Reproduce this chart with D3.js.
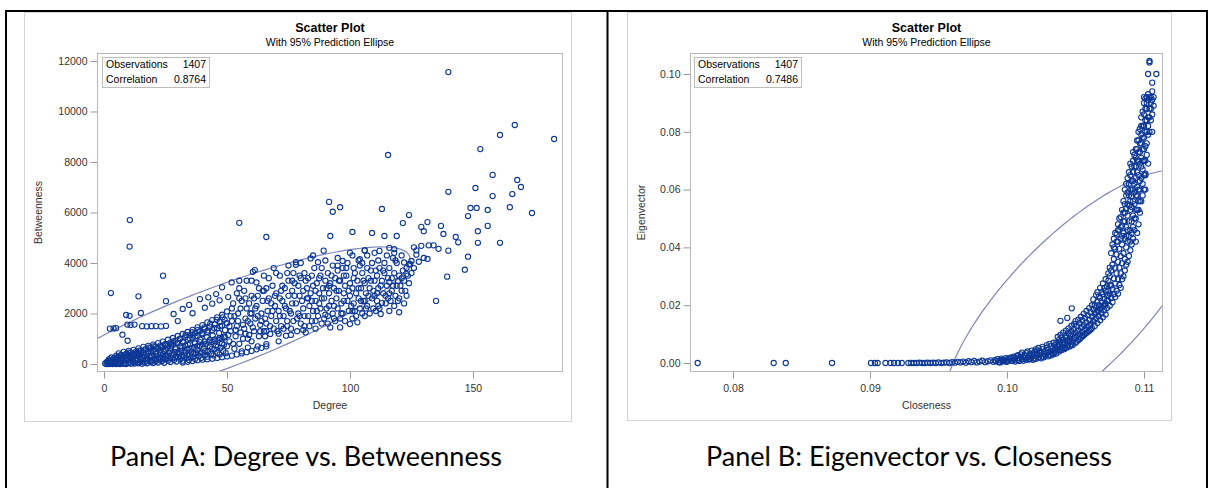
<!DOCTYPE html>
<html>
<head>
<meta charset="utf-8">
<script src="https://cdn.jsdelivr.net/npm/d3@7"></script>
<style>
  body { margin: 0; background: #fff; }
  svg { display: block; }
</style>
</head>
<body>
<div id="chart"></div>
<script>
// ---------------- data ----------------
// Panel A: [degree, betweenness]
var panelAPoints = [
  // isolated points
  [140,11560],[167,9465],[161,9070],[183,8910],[153,8510],[115.5,8277],[158,7490],[168,7290],[169.5,7010],[151,6970],
  [140,6820],[166,6730],[158,6650],[91.5,6420],[93,6030],[96,6210],[113,6140],[149,6180],[151.5,6180],[156,6100],
  [165,6210],[174,5980],[148,5860],[124,5900],[121.5,5580],[131.5,5620],[129,5430],[130,5260],[137,5470],[138,5150],
  [143,5030],[152,5260],[156,5470],[10.5,5700],[55,5590],[66,5030],[92,5070],[101,5230],[109,5190],[114,5070],
  [119,5070],[152,4800],[161,4800],[10.4,4650],[135,2500],[139.5,3460],[146.7,3735],[148,4250],[140,4490],[131.5,4160],
  [128,4050],[123,3560],[119.5,3290],[116,3250],[2.8,2810],[14,2680],[24,3500],[25.2,2490],[15,2020],[9,1940],
  [10.4,1910],[2.4,1400],[3.9,1410],[4.9,1420],[9.5,1560],[10.8,1540],[12.4,1560],[7.5,1160],[9.6,920],[15.5,1500],
  [17.4,1490],[19.3,1500],[21.1,1500],[23.2,1490],[25.2,1510],[126,4620],[129,4680],[132,4700],[136,4560],[144,4820],
  [127,4330],[118,4550],[116,4600],[112,4480],[106,4500],[104,4150],[101,4300],[97,4080],[95,3900],[124,3950],
  [122,4020],[125,4080],[32,2180],[34.6,2340],[39,2570],[42.4,2640],[45.6,2770],[48,3036],[51.9,3230],[55,3300],
  [28.3,1980],[30,1700],[36,2010],[41,2230],[44,2390],[47,2520],
  // dense wedge near the origin
  [1,0],[1.5,30],[2,0],[2.5,60],[3,10],[3.5,0],[4,40],[4.5,90],[5,0],[5.5,20],[6,70],[6.5,0],[7,30],[7.5,110],[8,10],
  [8.5,50],[9,0],[9.5,140],[10,40],[10.5,80],[11,10],[11.5,170],[12,60],[12.5,20],[13,110],[13.5,200],[14,30],[14.5,80],
  [15,150],[15.5,10],[16,240],[16.5,60],[17,120],[17.5,30],[18,190],[18.5,280],[19,70],[19.5,140],[20,40],[20.5,230],
  [21,100],[21.5,320],[22,60],[22.5,170],[23,260],[23.5,110],[24,380],[24.5,50],[25,200],[25.5,300],[26,130],[26.5,420],
  [27,80],[27.5,240],[28,350],[28.5,160],[29,470],[29.5,100],[30,280],[30.5,400],[31,190],[31.5,520],[32,130],[32.5,330],
  [33,450],[33.5,230],[34,580],[34.5,160],[35,370],[35.5,500],[36,270],[36.5,640],[37,200],[37.5,420],[38,560],[38.5,310],
  [39,720],[39.5,240],[40,460],[40.5,610],[41,360],[41.5,800],[42,290],[42.5,520],[43,680],[43.5,400],[44,880],[44.5,340],
  [45,580],[45.5,740],[46,450],[46.5,960],[47,380],[47.5,640],[48,820],[48.5,520],[49,1050],[49.5,430],[50,700],
  [2,180],[3,260],[4,220],[5,330],[6,280],[6,420],[7,360],[8,300],[8,480],[9,400],[10,330],[10,520],[11,450],[12,380],
  [12,560],[13,490],[14,420],[14,620],[15,540],[16,460],[16,680],[17,590],[18,500],[18,720],[19,640],[20,560],[20,770],
  [21,690],[22,600],[22,830],[23,740],[24,660],[24,890],[25,800],[26,720],[26,960],[27,860],[28,780],[28,1030],[29,920],
  [30,840],[30,1110],[31,990],[32,900],[32,1190],[33,1060],[34,970],[34,1270],[35,1140],[36,1040],[36,1350],[37,1220],
  [38,1110],[38,1450],[39,1300],[40,1180],[40,1540],[41,1390],[42,1260],[42,1650],[43,1480],[44,1340],[44,1740],[45,1570],
  [46,1420],[46,1850],[47,1660],[48,1520],[48,1950],[49,1760],[50,1610],[50,2080],
  [5,150],[7,210],[9,250],[11,310],[13,330],[15,390],[17,410],[19,470],[21,490],[23,550],[25,570],[27,630],[29,650],
  [31,710],[33,730],[35,790],[37,810],[39,870],[41,890],[43,950],[45,970],[47,1030],[49,1090],
  [32,60],[34,90],[36,120],[38,150],[40,170],[42,190],[44,210],[46,240],[48,270],[50,300],[52,330],[54,380],[56,420],
  [58,470],[60,520],[62,580],[64,640],[66,700],
  [0.5,20],[1.2,80],[1.8,120],[2.3,10],[2.8,140],[3.3,90],[3.8,180],[4.2,20],[4.7,250],[5.2,120],[5.8,200],[6.2,30],
  [6.8,330],[7.2,160],[7.8,260],[8.2,40],[8.8,360],[9.2,200],[9.8,290],[10.2,450],[10.8,240],[11.2,380],[11.8,90],
  [12.2,300],[12.8,420],[13.2,150],[13.8,360],[14.2,520],[14.8,240],[15.2,460],[15.8,90],[16.2,350],[16.8,580],[17.2,200],
  [17.8,420],[18.2,650],[18.8,130],[19.2,330],[19.8,520],[20.2,700],[20.8,160],[21.2,400],[21.8,600],[22.2,250],[22.8,460],
  [23.2,680],[23.8,180],[24.2,520],[24.8,760],[25.2,330],[25.8,620],[26.2,220],[26.8,520],[27.2,780],[27.8,430],[28.2,900],
  [28.8,250],[29.2,580],[29.8,820],[30.2,450],[30.8,1000],[31.2,300],[31.8,640],[32.2,860],[32.8,520],[33.2,1150],
  [33.8,350],[34.2,760],[34.8,1020],[35.2,620],[35.8,1260],[36.2,400],[36.8,860],[37.2,1100],[37.8,700],[38.2,1350],
  [38.8,450],[39.2,960],[39.8,1220],[40.2,780],[40.8,1450],[41.2,520],[41.8,1060],[42.2,1330],[42.8,860],[43.2,1600],
  [43.8,600],[44.2,1130],[44.8,1420],[45.2,900],[45.8,1750],[46.2,680],[46.8,1230],[47.2,1500],[47.8,1000],[48.2,1850],
  [48.8,760],[49.2,1340],[49.8,1620],
  // middle of the cloud
  [51,900],[51.5,1300],[52,1700],[52.5,2400],[53,600],[53.5,1100],[54,1500],[54.5,2000],[55,800],[55,2600],[55.5,1250],
  [50.5,2650],[52,2200],[53,1900],[54,2800],[51,1500],
  [56,500],[56.5,1000],[57,1400],[57.5,1800],[58,2200],[58.5,650],[59,1150],[59.5,1600],[60,2000],[56,2500],[57,2900],
  [58,3300],[59,2400],[60,900],[60,2700],[57.5,1200],[58.5,1700],
  [60.5,3650],[61.3,3720],[61,1300],[61.5,1800],[62,2300],[62,3230],[62.5,700],[63,1100],[63.5,1550],[64,2000],[64.5,2500],
  [65,1300],[65,2900],[63,3000],[61,2600],[64,1700],[62.5,1900],
  [66,790],[66,1600],[66.5,2100],[67,2600],[67.6,1190],[68,1900],[68.5,3100],[69,3800],[69,1400],[69.5,2300],[70,1700],
  [70,2800],[67,3400],[68,2400],[66,3000],[65.5,1100],
  [71,1200],[71,2100],[71.5,3500],[72,1500],[72.5,2500],[73,1900],[73.5,3000],[74,1120],[74,2200],[74.5,1700],[75,2700],
  [75,3300],[72,2900],[73,1400],[71.5,2600],[74.5,3600],
  [76,1400],[76,2000],[76.5,2900],[77,3600],[77,1700],[78,4030],[78,3930],[78,2400],[78.5,1300],[79,2000],[79,3100],
  [79.5,2700],[80,1600],[80,3400],[76.5,2400],[77.5,3200],[79.5,1900],
  [81,2200],[81,2900],[81.5,1500],[82,1250],[82,3300],[82.5,2600],[83,1900],[83,3400],[83.5,2300],[84,4180],[84,2800],
  [84.5,1700],[85,3100],[85,2100],[81.5,3600],[83,2600],[84.5,3500],
  [86,2500],[86,1400],[86.5,3200],[87,4030],[87,1900],[87.5,2800],[88,3500],[88,2200],[88.5,1600],[89,3000],[89.3,4490],
  [89.5,2600],[90,1950],[90,3300],[86,2900],[88.5,3800],[87.5,2400],
  [90.5,2200],[91,3600],[91,1600],[91.5,2800],[92,1450],[92,3200],[92.5,2500],[93,3900],[93,2000],[93.5,3000],[94,1700],
  [94,3400],[94.5,2600],[95,2200],[95,3700],[91.5,3100],[93.5,2300],
  [95.5,2900],[96,1450],[96,3300],[96.5,2400],[97,3800],[97,2000],[97.5,2800],[98,3100],[98,1700],[98.5,3500],[99,2500],
  [99,4000],[99.5,2100],[100,1580],[100,3200],[100,2700],[97.5,3500],
  [101,1800],[101,3000],[101.5,2400],[102,3600],[102,2100],[102.5,2800],[103,1650],[103,3300],[103.5,2600],[104,3900],
  [104,2200],[104.5,3000],[105,2000],[105,3600],[101.5,3800],[103.5,4100],
  [105.5,2500],[106,3200],[106,1900],[106.5,2800],[107,3800],[107,2300],[107.5,3400],[108,2000],[108,3000],[108.5,3700],
  [109,2600],[109,4000],[109.5,2200],[110,3300],[110,2700],[107,4300],[106,4500],
  [110.5,2100],[111,3500],[111,2500],[111.5,3000],[112,3800],[112,2200],[112.5,1980],[113,2420],[113,3300],[113.5,2800],
  [114,3600],[114,4000],[114.5,2400],[115,3100],[115,4300],[111.5,4100],
  [115.5,2600],[116,3800],[116,2100],[117,3400],[117,2900],[117.5,4200],[118,2300],[118,3600],[118.5,2700],[119,3100],
  [119,4000],[120,2600],[120,3500],[121,2900],[121,4300],[122,3300],[123,2700],[123,3800],[124,3200],[124.5,3950],
  [120,2050],[122,2400],
  [50.5,1150],[51.5,1900],[52.5,800],[53.5,1350],[54.5,1700],[55.5,2200],[56.5,1550],[57.5,2600],[58.5,1000],[59.5,2000],
  [60.5,1450],[61.5,2200],[62.5,2700],[63.5,1300],[64.5,2900],[65.5,1800],[66.5,2500],[67.5,1500],[68.5,2100],[69.5,2700],
  [70.5,1300],[71.5,1900],[72.5,3100],[73.5,2300],[74.5,1500],[75.5,2100],[76.5,3300],[77.5,2700],[78.5,1800],[79.5,3500],
  [80.5,2500],[81.5,1900],[82.5,3000],[83.5,1500],[84.5,2500],[85.5,3800],[86.5,2100],[87.5,3400],[88.5,2600],[89.5,1800],
  [90.5,3000],[91.5,2300],[92.5,3500],[93.5,1800],[94.5,2900],[95.5,3300],[96.5,2000],[97.5,2500],[98.5,3800],[99.5,2900],
  [100.5,2300],[101.5,3400],[102.5,1900],[103.5,3000],[104.5,2500],[105.5,3300],[106.5,2200],[107.5,2700],[108.5,3300],
  [109.5,2900],[110.5,3700],[111.5,2300],[112.5,3100],[113.5,3700],[114.5,2700],[115.5,3400],[116.5,2500],[117.5,3100],
  [118.5,4100],[119.5,2500],[120.5,3100],[121.5,3700],[122.5,2900],[123.5,3500],[55,3000],[60,3300],[65,3500],[70,3600],
  [75,3900],[80,4000],[85,4300],[90,4100],[95,4200],[100,4400],[105,4000],[110,4400],[118,4400],[66,1300],[71,900],
  [76,1150],[81,1350],[86,1700],[91,1900],[96,1800],[101,2100],[106,2500],[111,2800],[116,2800],[121,3400],[125,3600],
  [127,4500],[130,4200],[126,3800],[134,4700]
];

// Panel B: [closeness, eigenvector]
var panelBPoints = [
  [0.07742,0],[0.08297,0],[0.08385,0],[0.08723,0],[0.09007,0],[0.09036,0],[0.09056,0],[0.09113,0],[0.0915,0],[0.09175,0],
  [0.09204,0],[0.09232,0],
  [0.0928,0],[0.0930,0],[0.0932,0],[0.0934,0],[0.0936,0.0001],[0.0938,0],[0.0940,0],[0.0942,0.0001],[0.0944,0],
  [0.0946,0.0001],[0.0948,0],[0.0950,0.0002],[0.0952,0],[0.0954,0.0001],[0.0956,0.0002],[0.0958,0],[0.0960,0.0003],
  [0.0962,0.0001],[0.0964,0.0004],[0.0966,0.0002],[0.0968,0.0005],[0.0970,0.0001],[0.0972,0.0006],[0.0974,0.0003],
  [0.0976,0.0007],[0.0978,0.0002],[0.0980,0.0005],[0.0982,0.0008],[0.0984,0.0003],[0.0986,0.0006],[0.0988,0.0009],
  [0.0990,0.0004],
  [0.0991,0.0010],[0.0992,0.0006],[0.0993,0.0013],[0.0994,0.0003],[0.0995,0.0009],[0.0996,0.0015],[0.0997,0.0006],
  [0.0998,0.0011],[0.0999,0.0017],[0.1000,0.0004],[0.1001,0.0009],[0.1002,0.0014],[0.1003,0.0019],[0.1004,0.0007],
  [0.1005,0.0012],
  [0.1006,0.0018],[0.1007,0.0024],[0.1008,0.0010],[0.1009,0.0016],[0.1010,0.0022],[0.1010,0.0030],[0.1011,0.0013],
  [0.1012,0.0020],[0.1013,0.0027],[0.1014,0.0011],[0.1014,0.0034],[0.1015,0.0018],[0.1016,0.0025],[0.1017,0.0014],
  [0.1017,0.0032],[0.1018,0.0021],[0.1019,0.0028],[0.1020,0.0016],[0.1020,0.0038],
  [0.1021,0.0024],[0.1022,0.0032],[0.1022,0.0044],[0.1023,0.0019],[0.1024,0.0028],[0.1024,0.0040],[0.1025,0.0035],
  [0.1026,0.0022],[0.1026,0.0048],[0.1027,0.0031],[0.1028,0.0041],[0.1028,0.0026],[0.1029,0.0053],[0.1030,0.0036],
  [0.1030,0.0046],[0.1031,0.0029],[0.1032,0.0040],[0.1032,0.0058],[0.1033,0.0034],[0.1033,0.0050],[0.1034,0.0044],
  [0.1035,0.0062],[0.1035,0.0038],
  [0.1036,0.0050],[0.1036,0.0070],[0.1037,0.0043],[0.1037,0.0058],[0.1038,0.0066],[0.1038,0.0080],[0.1039,0.0048],
  [0.1039,0.0074],[0.1040,0.0056],[0.1040,0.0088],[0.1041,0.0063],[0.1041,0.0079],[0.1042,0.0052],[0.1042,0.0071],
  [0.1043,0.0086],[0.1043,0.0095],[0.1044,0.0060],[0.1044,0.0077],[0.1045,0.0068],[0.1045,0.0102],[0.1046,0.0084],
  [0.1046,0.0093],[0.1047,0.0064],[0.1047,0.0110],[0.1048,0.0075],[0.1048,0.0099],
  [0.10473,0.0189],[0.1044,0.0156],[0.1039,0.0146],
  [0.1049,0.0086],[0.1049,0.0118],[0.1050,0.0070],[0.1050,0.0105],[0.1051,0.0094],[0.1051,0.0128],[0.1052,0.0080],
  [0.1052,0.0112],[0.1053,0.0100],[0.1053,0.0138],[0.1054,0.0088],[0.1054,0.0121],[0.1055,0.0108],[0.1055,0.0148],
  [0.1056,0.0096],[0.1056,0.0132],[0.1057,0.0116],[0.1057,0.0156],[0.1058,0.0104],[0.1058,0.0140],[0.1059,0.0125],
  [0.1059,0.0165],[0.1060,0.0112],[0.1060,0.0150],[0.1061,0.0134],[0.1061,0.0175],[0.1062,0.0120],[0.1062,0.0160],
  [0.1063,0.0145],[0.1063,0.0185],[0.1064,0.0128],[0.1064,0.0170],[0.1064,0.0200],[0.1065,0.0155],[0.1065,0.0192],
  [0.1066,0.0138],[0.1066,0.0180],[0.1066,0.0212],[0.1067,0.0162],[0.1067,0.0200],[0.1068,0.0148],[0.1068,0.0188],
  [0.1068,0.0225],[0.1069,0.0172],[0.1069,0.0210],[0.1070,0.0158],[0.1070,0.0198],[0.1070,0.0238],[0.1071,0.0182],
  [0.1071,0.0222],[0.1072,0.0168],[0.1072,0.0205],[0.1072,0.0250],
  [0.1073,0.0190],[0.1073,0.0232],[0.1073,0.0265],[0.1074,0.0215],[0.1074,0.0250],[0.1074,0.0285],[0.1075,0.0198],
  [0.1075,0.0240],[0.1075,0.0300],[0.1076,0.0225],[0.1076,0.0268],[0.1076,0.0320],[0.1077,0.0210],[0.1077,0.0255],
  [0.1077,0.0340],[0.1078,0.0238],[0.1078,0.0292],[0.1078,0.0360],[0.1079,0.0228],[0.1079,0.0275],[0.1079,0.0330],
  [0.1080,0.0250],[0.1080,0.0310],[0.1080,0.0375],[0.1081,0.0240],[0.1081,0.0290],[0.1081,0.0350],[0.1082,0.0270],
  [0.1082,0.0330],[0.1082,0.0395],[0.1083,0.0260],[0.1083,0.0310],[0.1083,0.0370],
  [0.1084,0.0290],[0.1084,0.0345],[0.1084,0.0410],[0.1085,0.0300],[0.1085,0.0380],[0.1085,0.0450],[0.1086,0.0320],
  [0.1086,0.0360],[0.1086,0.0430],[0.1086,0.0490],[0.1087,0.0340],[0.1087,0.0400],[0.1087,0.0470],[0.1088,0.0350],
  [0.1088,0.0420],[0.1088,0.0510],[0.1089,0.0370],[0.1089,0.0440],[0.1089,0.0545],[0.1090,0.0390],[0.1090,0.0460],
  [0.1090,0.0530],[0.1091,0.0410],[0.1091,0.0490],[0.1091,0.0575],[0.1092,0.0430],[0.1092,0.0510],[0.1092,0.0600],
  [0.1076,0.0380],[0.1077,0.0410],[0.1078,0.0430],[0.1079,0.0395],[0.1080,0.0445],[0.1081,0.0420],[0.1081,0.0480],
  [0.1082,0.0460],[0.1083,0.0430],[0.1083,0.0505],[0.1084,0.0475],[0.1085,0.0520],[0.1086,0.0550],[0.1087,0.0535],
  [0.1087,0.0580],
  [0.1088,0.0590],[0.1089,0.0620],[0.1090,0.0600],[0.1090,0.0650],[0.1091,0.0630],[0.1091,0.0680],[0.1092,0.0660],
  [0.1092,0.0700],[0.1093,0.0460],[0.1093,0.0550],[0.1093,0.0620],[0.1093,0.0720],[0.1094,0.0500],[0.1094,0.0580],
  [0.1094,0.0680],[0.1094,0.0740],[0.1095,0.0530],[0.1095,0.0610],[0.1095,0.0700],[0.1095,0.0770],[0.1096,0.0560],
  [0.1096,0.0650],[0.1096,0.0730],[0.1096,0.0800],[0.1097,0.0600],[0.1097,0.0690],[0.1097,0.0760],[0.1098,0.0640],
  [0.1098,0.0710],[0.1098,0.0790],[0.1098,0.0850],[0.1099,0.0670],[0.1099,0.0740],[0.1099,0.0820],[0.1100,0.0700],
  [0.1100,0.0780],[0.1100,0.0860],[0.1100,0.0920],[0.1101,0.0650],[0.1101,0.0750],[0.1101,0.0840],[0.1101,0.0915],
  [0.1102,0.0720],[0.1102,0.0800],[0.1102,0.0880],[0.1102,0.0920],[0.1103,0.0690],[0.1103,0.0910],[0.1104,0.0850],
  [0.1104,0.0920],[0.1104,0.1045],[0.1104,0.1040],[0.1105,0.0900],[0.1105,0.0880],[0.1106,0.0800],[0.1106,0.0910],
  [0.1106,0.0940],[0.1106,0.0970],[0.1103,0.1000],[0.1109,0.1000],[0.1101,0.0655],[0.1100,0.0600],
  [0.0995,0.0002],[0.0997,0.0012],[0.0999,0.0005],[0.1001,0.0016],[0.1003,0.0008],[0.1005,0.0022],[0.1006,0.0005],
  [0.1008,0.0027],[0.1009,0.0007],[0.1011,0.0036],[0.1012,0.0008],[0.1013,0.0017],[0.1015,0.0040],[0.1016,0.0012],
  [0.1018,0.0043],[0.1019,0.0011],[0.1021,0.0047],[0.1021,0.0014],[0.1023,0.0052],[0.1025,0.0016],[0.1026,0.0056],
  [0.1027,0.0020],[0.1029,0.0062],[0.1030,0.0023],[0.1031,0.0066],[0.1032,0.0026],[0.1034,0.0070],[0.1034,0.0030],
  [0.1036,0.0033],[0.1037,0.0090],[0.1038,0.0040],[0.1039,0.0097],[0.1040,0.0045],[0.1041,0.0105],[0.1042,0.0048],
  [0.1043,0.0112],[0.1044,0.0054],[0.1045,0.0120],[0.1046,0.0058],[0.1047,0.0128],[0.1048,0.0062],[0.1049,0.0135],
  [0.1050,0.0145],[0.1051,0.0074],[0.1052,0.0150],[0.1053,0.0082],[0.1054,0.0160],[0.1055,0.0092],[0.1056,0.0170],
  [0.1057,0.0100],[0.1058,0.0180],[0.1059,0.0108],[0.1060,0.0190],[0.1061,0.0115],[0.1062,0.0200],[0.1045,0.0080],
  [0.1050,0.0090],[0.1055,0.0125],[0.1060,0.0130],[0.1040,0.0070],[0.1035,0.0050],
  [0.1063,0.0220],[0.1064,0.0150],[0.1065,0.0235],[0.1065,0.0175],[0.1066,0.0245],[0.1067,0.0180],[0.1067,0.0230],
  [0.1068,0.0260],[0.1069,0.0190],[0.1069,0.0245],[0.1070,0.0275],[0.1071,0.0200],[0.1071,0.0260],[0.1072,0.0290],
  [0.1073,0.0215],[0.1074,0.0310],[0.1074,0.0235],[0.1075,0.0330],[0.1075,0.0270],
  [0.1078,0.0400],[0.1079,0.0450],[0.1080,0.0420],[0.1081,0.0460],[0.1082,0.0500],[0.1083,0.0470],[0.1084,0.0440],
  [0.1084,0.0530],[0.1085,0.0490],[0.1085,0.0560],[0.1086,0.0520],[0.1086,0.0600],[0.1087,0.0440],[0.1087,0.0620],
  [0.1088,0.0460],[0.1088,0.0550],[0.1088,0.0640],[0.1089,0.0490],[0.1089,0.0580],[0.1089,0.0660],[0.1090,0.0420],
  [0.1090,0.0560],[0.1090,0.0690],[0.1091,0.0450],[0.1091,0.0540],[0.1091,0.0600],[0.1092,0.0470],[0.1092,0.0560],
  [0.1092,0.0630],[0.1092,0.0730],[0.1093,0.0500],[0.1093,0.0590],[0.1093,0.0680],[0.1094,0.0420],[0.1094,0.0530],
  [0.1094,0.0640],[0.1094,0.0710],[0.1095,0.0450],[0.1095,0.0580],[0.1095,0.0660],[0.1095,0.0740],[0.1096,0.0480],
  [0.1096,0.0600],[0.1096,0.0700],[0.1096,0.0770],[0.1097,0.0520],[0.1097,0.0630],[0.1097,0.0730],[0.1097,0.0810],
  [0.1098,0.0560],[0.1098,0.0680],[0.1098,0.0760],[0.1098,0.0820],[0.1099,0.0620],[0.1099,0.0700],[0.1099,0.0780],
  [0.1099,0.0870],[0.1100,0.0650],[0.1100,0.0740],[0.1100,0.0820],[0.1100,0.0900],[0.1101,0.0700],[0.1101,0.0800],
  [0.1101,0.0880],[0.1102,0.0760],[0.1102,0.0840],[0.1102,0.0900],[0.1103,0.0790],[0.1103,0.0850],[0.1103,0.0930],
  [0.1104,0.0800],[0.1104,0.0880],[0.1105,0.0840],[0.1105,0.0920],[0.1106,0.0860],[0.1107,0.0890],[0.1107,0.0920],
  [0.1103,0.0820],[0.1101,0.0600],[0.1099,0.0580],[0.1097,0.0560],[0.1096,0.0530]
];

var panelATicksX = [0, 50, 100, 150];
var panelATicksY = [0, 2000, 4000, 6000, 8000, 10000, 12000];
var panelBTicksX = [0.08, 0.09, 0.10, 0.11];
var panelBTicksY = [0.00, 0.02, 0.04, 0.06, 0.08, 0.10];

// shape of the drawn 95% prediction ellipse: [centreX, sdX, centreY, sdY, tilt]
var panelAEllipse = [46.1, 32, 1390, 1326, 0.85];
var panelBEllipse = [0.1050, 0.00395, 0.02035, 0.0190, 0.7486];

var panelAStats = [["Observations", "1407"], ["Correlation", "0.8764"]];
var panelBStats = [["Observations", "1407"], ["Correlation", "0.7486"]];

var captions = ["Panel A: Degree vs. Betweenness", "Panel B: Eigenvector vs. Closeness"];

// ---------------- drawing ----------------
var W = 1212, H = 488;
var FONT = "'Liberation Sans', Arial, sans-serif";
var MARK = "#0d3897";
var ELLC = "#7d86b8";

var svg = d3.select("#chart").append("svg")
  .attr("width", W).attr("height", H);

svg.append("rect").attr("width", W).attr("height", H).attr("fill", "#fff");

function drawPanel(o) {
  var g = svg.append("g");

  // graph frame
  g.append("rect")
    .attr("x", o.frame[0] + 0.5).attr("y", o.frame[1] + 0.5)
    .attr("width", o.frame[2] - o.frame[0]).attr("height", o.frame[3] - o.frame[1])
    .attr("fill", "#fff").attr("stroke", "#d3d3d3");

  var cx = (o.plot[0] + o.plot[1]) / 2;
  g.append("text").attr("x", cx).attr("y", 32).attr("text-anchor", "middle")
    .style("font-family", FONT).style("font-size", "12.5px").style("font-weight", "bold")
    .attr("fill", "#000").text("Scatter Plot");
  g.append("text").attr("x", cx).attr("y", 45.5).attr("text-anchor", "middle")
    .style("font-family", FONT).style("font-size", "10.5px")
    .attr("fill", "#000").text("With 95% Prediction Ellipse");

  var x = d3.scaleLinear().domain(o.xDomain).range([o.plot[0], o.plot[1]]);
  var y = d3.scaleLinear().domain(o.yDomain).range([o.plot[3], o.plot[2]]);

  // axes
  var xAxis = g.append("g")
    .attr("transform", "translate(0," + (o.plot[3] + 0.5) + ")")
    .call(d3.axisBottom(x).tickValues(o.xTicks).tickFormat(o.xFormat).tickSize(7).tickPadding(6).tickSizeOuter(0));
  var yAxis = g.append("g")
    .attr("transform", "translate(" + (o.plot[0] - 0.5) + ",0)")
    .call(d3.axisLeft(y).tickValues(o.yTicks).tickFormat(o.yFormat).tickSize(7).tickPadding(3).tickSizeOuter(0));
  [xAxis, yAxis].forEach(function (a) {
    a.select(".domain").remove();
    a.selectAll("line").attr("stroke", "#9a9a9a");
    a.selectAll("text").attr("fill", "#333").style("font-family", FONT).style("font-size", "10.5px");
  });

  // axis labels
  g.append("text").attr("x", cx).attr("y", o.plot[3] + 38).attr("text-anchor", "middle")
    .style("font-family", FONT).style("font-size", "10.5px").attr("fill", "#333").text(o.xLabel);
  g.append("text")
    .attr("transform", "translate(" + o.yLabelX + "," + ((o.plot[2] + o.plot[3]) / 2) + ") rotate(-90)")
    .attr("text-anchor", "middle")
    .style("font-family", FONT).style("font-size", "10.5px").attr("fill", "#333").text(o.yLabel);

  // clip to plot wall
  var clipId = "clip" + o.id;
  g.append("clipPath").attr("id", clipId).append("rect")
    .attr("x", o.plot[0]).attr("y", o.plot[2])
    .attr("width", o.plot[1] - o.plot[0]).attr("height", o.plot[3] - o.plot[2]);

  var inner = g.append("g").attr("clip-path", "url(#" + clipId + ")");

  // prediction ellipse
  var e = o.ellipse, k = Math.sqrt(5.991);
  var ring = d3.range(0, 361, 2).map(function (deg) {
    var t = deg * Math.PI / 180;
    var ex = e[0] + k * e[1] * Math.cos(t);
    var ey = e[2] + k * e[3] * (e[4] * Math.cos(t) + Math.sqrt(1 - e[4] * e[4]) * Math.sin(t));
    return [ex, ey];
  });
  inner.append("path")
    .datum(ring)
    .attr("fill", "none").attr("stroke", ELLC).attr("stroke-width", 1.2)
    .attr("d", d3.line().x(function (d) { return x(d[0]); }).y(function (d) { return y(d[1]); }).curve(d3.curveCardinalClosed));

  // markers
  inner.append("g").selectAll("circle")
    .data(o.points).enter().append("circle")
    .attr("cx", function (d) { return x(d[0]); })
    .attr("cy", function (d) { return y(d[1]); })
    .attr("r", 2.6)
    .attr("fill", "none").attr("stroke", MARK).attr("stroke-width", 1.1);

  // plot wall border
  g.append("rect")
    .attr("x", o.plot[0] - 0.5).attr("y", o.plot[2] - 0.5)
    .attr("width", o.plot[1] - o.plot[0] + 1).attr("height", o.plot[3] - o.plot[2] + 1)
    .attr("fill", "none").attr("stroke", "#b8b8b8");

  // stats inset
  var ib = o.inset;
  g.append("rect").attr("x", ib[0] + 0.5).attr("y", 57.5).attr("width", ib[1] - ib[0]).attr("height", 30)
    .attr("fill", "#fff").attr("stroke", "#bdbdbd");
  o.stats.forEach(function (s, i) {
    g.append("text").attr("x", ib[0] + 4).attr("y", 68 + i * 14.5)
      .style("font-family", FONT).style("font-size", "10.5px").attr("fill", "#000").text(s[0]);
    g.append("text").attr("x", ib[1] - 3).attr("y", 68 + i * 14.5).attr("text-anchor", "end")
      .style("font-family", FONT).style("font-size", "10.5px").attr("fill", "#000").text(s[1]);
  });

  // caption under the graph
  svg.append("text").attr("x", o.capX).attr("y", 466).attr("text-anchor", "middle")
    .attr("textLength", o.capW).attr("lengthAdjust", "spacingAndGlyphs")
    .style("font-family", "Lato, 'Open Sans', sans-serif").style("font-size", "26px")
    .attr("fill", "#000").text(o.caption);
}

drawPanel({
  id: "A",
  frame: [24, 12, 571, 421],
  plot: [98, 562, 54, 371],
  xDomain: [-2.44, 186.2],
  yDomain: [-277, 12277],
  xTicks: panelATicksX, yTicks: panelATicksY,
  xFormat: d3.format("d"), yFormat: d3.format("d"),
  xLabel: "Degree", yLabel: "Betweenness", yLabelX: 42,
  ellipse: panelAEllipse,
  points: panelAPoints,
  inset: [102, 209],
  stats: panelAStats,
  caption: captions[0], capX: 306, capW: 392
});

drawPanel({
  id: "B",
  frame: [627, 12, 1171, 420],
  plot: [691, 1162, 54, 371],
  xDomain: [0.076934, 0.111314],
  yDomain: [-0.00277, 0.10692],
  xTicks: panelBTicksX, yTicks: panelBTicksY,
  xFormat: d3.format(".2f"), yFormat: d3.format(".2f"),
  xLabel: "Closeness", yLabel: "Eigenvector", yLabelX: 645,
  ellipse: panelBEllipse,
  points: panelBPoints,
  inset: [694, 801],
  stats: panelBStats,
  caption: captions[1], capX: 909, capW: 406
});

// table rules
var rules = svg.append("g").attr("stroke", "#000").attr("stroke-width", 2);
rules.append("line").attr("x1", 5).attr("x2", 1208).attr("y1", 11).attr("y2", 11);
rules.append("line").attr("x1", 6).attr("x2", 6).attr("y1", 10).attr("y2", H);
rules.append("line").attr("x1", 607.5).attr("x2", 607.5).attr("y1", 10).attr("y2", H);
rules.append("line").attr("x1", 1207).attr("x2", 1207).attr("y1", 10).attr("y2", H);
</script>
</body>
</html>
